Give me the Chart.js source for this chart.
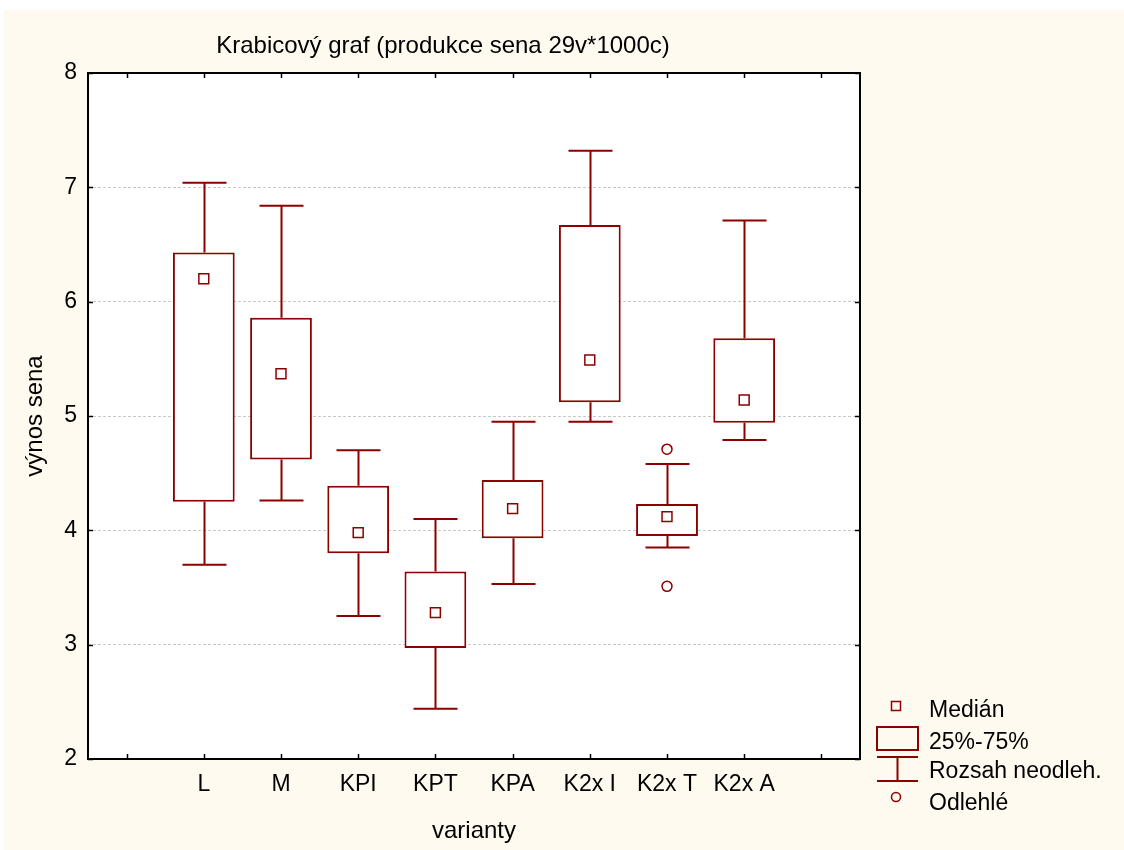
<!DOCTYPE html>
<html>
<head>
<meta charset="utf-8">
<script src="https://cdn.jsdelivr.net/npm/chart.js@4"></script>
<style>
  html, body { margin: 0; padding: 0; background: #fff; }
  canvas { display: block; }
</style>
</head>
<body>
<canvas id="boxChart" width="1124" height="850"></canvas>
<script>
// Data
const categories = ['', 'L', 'M', 'KPI', 'KPT', 'KPA', 'K2x I', 'K2x T', 'K2x A', ''];
const medians    = [null, 6.20, 5.37, 3.98, 3.28, 4.19, 5.49, 4.12, 5.14, null];
const q1         = [null, 4.25, 4.62, 3.80, 2.97, 3.93, 5.12, 3.95, 4.94, null];
const q3         = [null, 6.43, 5.86, 4.39, 3.64, 4.44, 6.67, 4.23, 5.68, null];
const whiskerMin = [null, 3.70, 4.26, 3.25, 2.44, 3.53, 4.95, 3.85, 4.79, null];
const whiskerMax = [null, 7.04, 6.84, 4.70, 4.10, 4.95, 7.32, 4.58, 6.71, null];
const outliers   = [{ x: 'K2x T', y: 4.71 }, { x: 'K2x T', y: 3.51 }];
const yTicks = [2, 3, 4, 5, 6, 7, 8];
const legendLabels = ['Medián', '25%-75%', 'Rozsah neodleh.', 'Odlehlé'];

const chartTitle = 'Krabicový graf (produkce sena 29v*1000c)';
const xTitle = 'varianty';
const yTitle = 'výnos sena';

const RED = '#8c0000';
const FONT = "'Liberation Sans', Arial, sans-serif";

Chart.defaults.font.family = FONT;
Chart.defaults.color = '#000';

// floating bars = krabice (25%-75%)
const boxes = categories.map((c, i) => q1[i] == null ? null : [q1[i], q3[i]]);

// pozadi, vousy, ramecek, titulek a legenda
const boxPlugin = {
  id: 'boxPlugin',
  beforeDraw(chart) {
    const { ctx, chartArea: a } = chart;
    ctx.save();
    ctx.fillStyle = '#ffffff';
    ctx.fillRect(0, 0, chart.width, chart.height);
    ctx.fillStyle = '#fffaef';
    ctx.fillRect(4, 10, chart.width - 4, chart.height - 10);
    ctx.fillStyle = '#ffffff';
    ctx.fillRect(a.left, a.top, a.right - a.left, a.bottom - a.top);
    ctx.restore();
  },
  beforeDatasetsDraw(chart) {
    const { ctx, scales: { x, y } } = chart;
    const catW = x.getPixelForValue(1) - x.getPixelForValue(0);
    const half = catW * 0.285;
    ctx.save();
    ctx.strokeStyle = RED;
    ctx.lineWidth = 2;
    categories.forEach((c, i) => {
      if (whiskerMin[i] == null) return;
      const px = Math.round(x.getPixelForValue(i)) + 0.5;
      const yMin = y.getPixelForValue(whiskerMin[i]);
      const yMax = y.getPixelForValue(whiskerMax[i]);
      const yQ1 = y.getPixelForValue(q1[i]);
      const yQ3 = y.getPixelForValue(q3[i]);
      ctx.beginPath();
      ctx.moveTo(px, yMax); ctx.lineTo(px, yQ3);
      ctx.moveTo(px, yQ1); ctx.lineTo(px, yMin);
      ctx.moveTo(px - half, yMax); ctx.lineTo(px + half, yMax);
      ctx.moveTo(px - half, yMin); ctx.lineTo(px + half, yMin);
      ctx.stroke();
    });
    ctx.restore();
  },
  afterDraw(chart) {
    const { ctx, chartArea: a, scales: { x, y } } = chart;
    ctx.save();
    // ramecek
    ctx.strokeStyle = '#000';
    ctx.lineWidth = 2;
    ctx.strokeRect(a.left, a.top, a.right - a.left, a.bottom - a.top);
    // dilky dovnitr
    ctx.lineWidth = 1.5;
    ctx.beginPath();
    categories.forEach((c, i) => {
      const px = Math.round(x.getPixelForValue(i)) + 0.5;
      ctx.moveTo(px, a.bottom); ctx.lineTo(px, a.bottom - 5);
      ctx.moveTo(px, a.top); ctx.lineTo(px, a.top + 5);
    });
    yTicks.forEach(v => {
      const py = Math.round(y.getPixelForValue(v)) + 0.5;
      ctx.moveTo(a.left, py); ctx.lineTo(a.left + 5, py);
      ctx.moveTo(a.right, py); ctx.lineTo(a.right - 5, py);
    });
    ctx.stroke();

    // titulek
    ctx.fillStyle = '#000';
    ctx.font = '24px ' + FONT;
    ctx.textAlign = 'center';
    ctx.textBaseline = 'alphabetic';
    ctx.fillText(chartTitle, 443, 53);

    // legenda
    const lx = 877, tx = 929;
    ctx.strokeStyle = RED;
    ctx.fillStyle = '#fff';
    ctx.lineWidth = 1.5;
    ctx.strokeRect(891.5, 701.5, 9, 9);
    ctx.lineWidth = 2;
    ctx.strokeRect(lx, 727, 41, 23);
    ctx.beginPath();
    ctx.moveTo(lx, 757); ctx.lineTo(lx + 41, 757);
    ctx.moveTo(lx, 781); ctx.lineTo(lx + 41, 781);
    ctx.moveTo(lx + 20.5, 757); ctx.lineTo(lx + 20.5, 781);
    ctx.stroke();
    ctx.lineWidth = 1.5;
    ctx.beginPath();
    ctx.arc(896, 797, 4.5, 0, Math.PI * 2);
    ctx.stroke();

    ctx.fillStyle = '#000';
    ctx.font = '23px ' + FONT;
    ctx.textAlign = 'left';
    const baselines = [717, 749, 778, 810];
    legendLabels.forEach((t, i) => ctx.fillText(t, tx, baselines[i]));
    ctx.restore();
  }
};

const ctx = document.getElementById('boxChart').getContext('2d');
new Chart(ctx, {
  type: 'bar',
  data: {
    labels: categories,
    datasets: [
      {
        label: legendLabels[1],
        data: boxes,
        backgroundColor: '#ffffff',
        borderColor: RED,
        borderWidth: 2,
        borderSkipped: false,
        barPercentage: 0.8,
        categoryPercentage: 1.0,
        order: 2
      },
      {
        type: 'line',
        label: legendLabels[0],
        data: medians,
        showLine: false,
        pointStyle: 'rect',
        pointRadius: 7,
        pointBorderWidth: 1.5,
        pointBorderColor: RED,
        pointBackgroundColor: '#ffffff',
        order: 1
      },
      {
        type: 'line',
        label: legendLabels[3],
        data: outliers,
        showLine: false,
        pointStyle: 'circle',
        pointRadius: 5,
        pointBorderWidth: 1.5,
        pointBorderColor: RED,
        pointBackgroundColor: '#ffffff',
        order: 1
      }
    ]
  },
  options: {
    responsive: false,
    animation: false,
    events: [],
    layout: { padding: { top: 73, right: 264, left: 0, bottom: 0 } },
    plugins: {
      legend: { display: false },
      title: { display: false },
      tooltip: { enabled: false }
    },
    scales: {
      x: {
        offset: true,
        grid: { display: false, drawTicks: false },
        border: { display: false },
        ticks: { padding: 12, autoSkip: false, maxRotation: 0, font: { size: 23 }, color: '#000' },
        title: { display: true, text: xTitle, font: { size: 24 }, color: '#000', padding: { top: 4, bottom: 4 } },
        afterFit(scale) { scale.height = 91; }
      },
      y: {
        min: 2,
        max: 8,
        ticks: { stepSize: 1, padding: 11, font: { size: 23 }, color: '#000' },
        grid: { color: '#c8c8c8', lineWidth: 1, drawTicks: false },
        border: { display: false, dash: [3, 2] },
        title: { display: true, text: yTitle, font: { size: 24 }, color: '#000', padding: { top: 21, bottom: 0 } },
        afterFit(scale) { scale.width = 88; }
      }
    }
  },
  plugins: [boxPlugin]
});
</script>
</body>
</html>
